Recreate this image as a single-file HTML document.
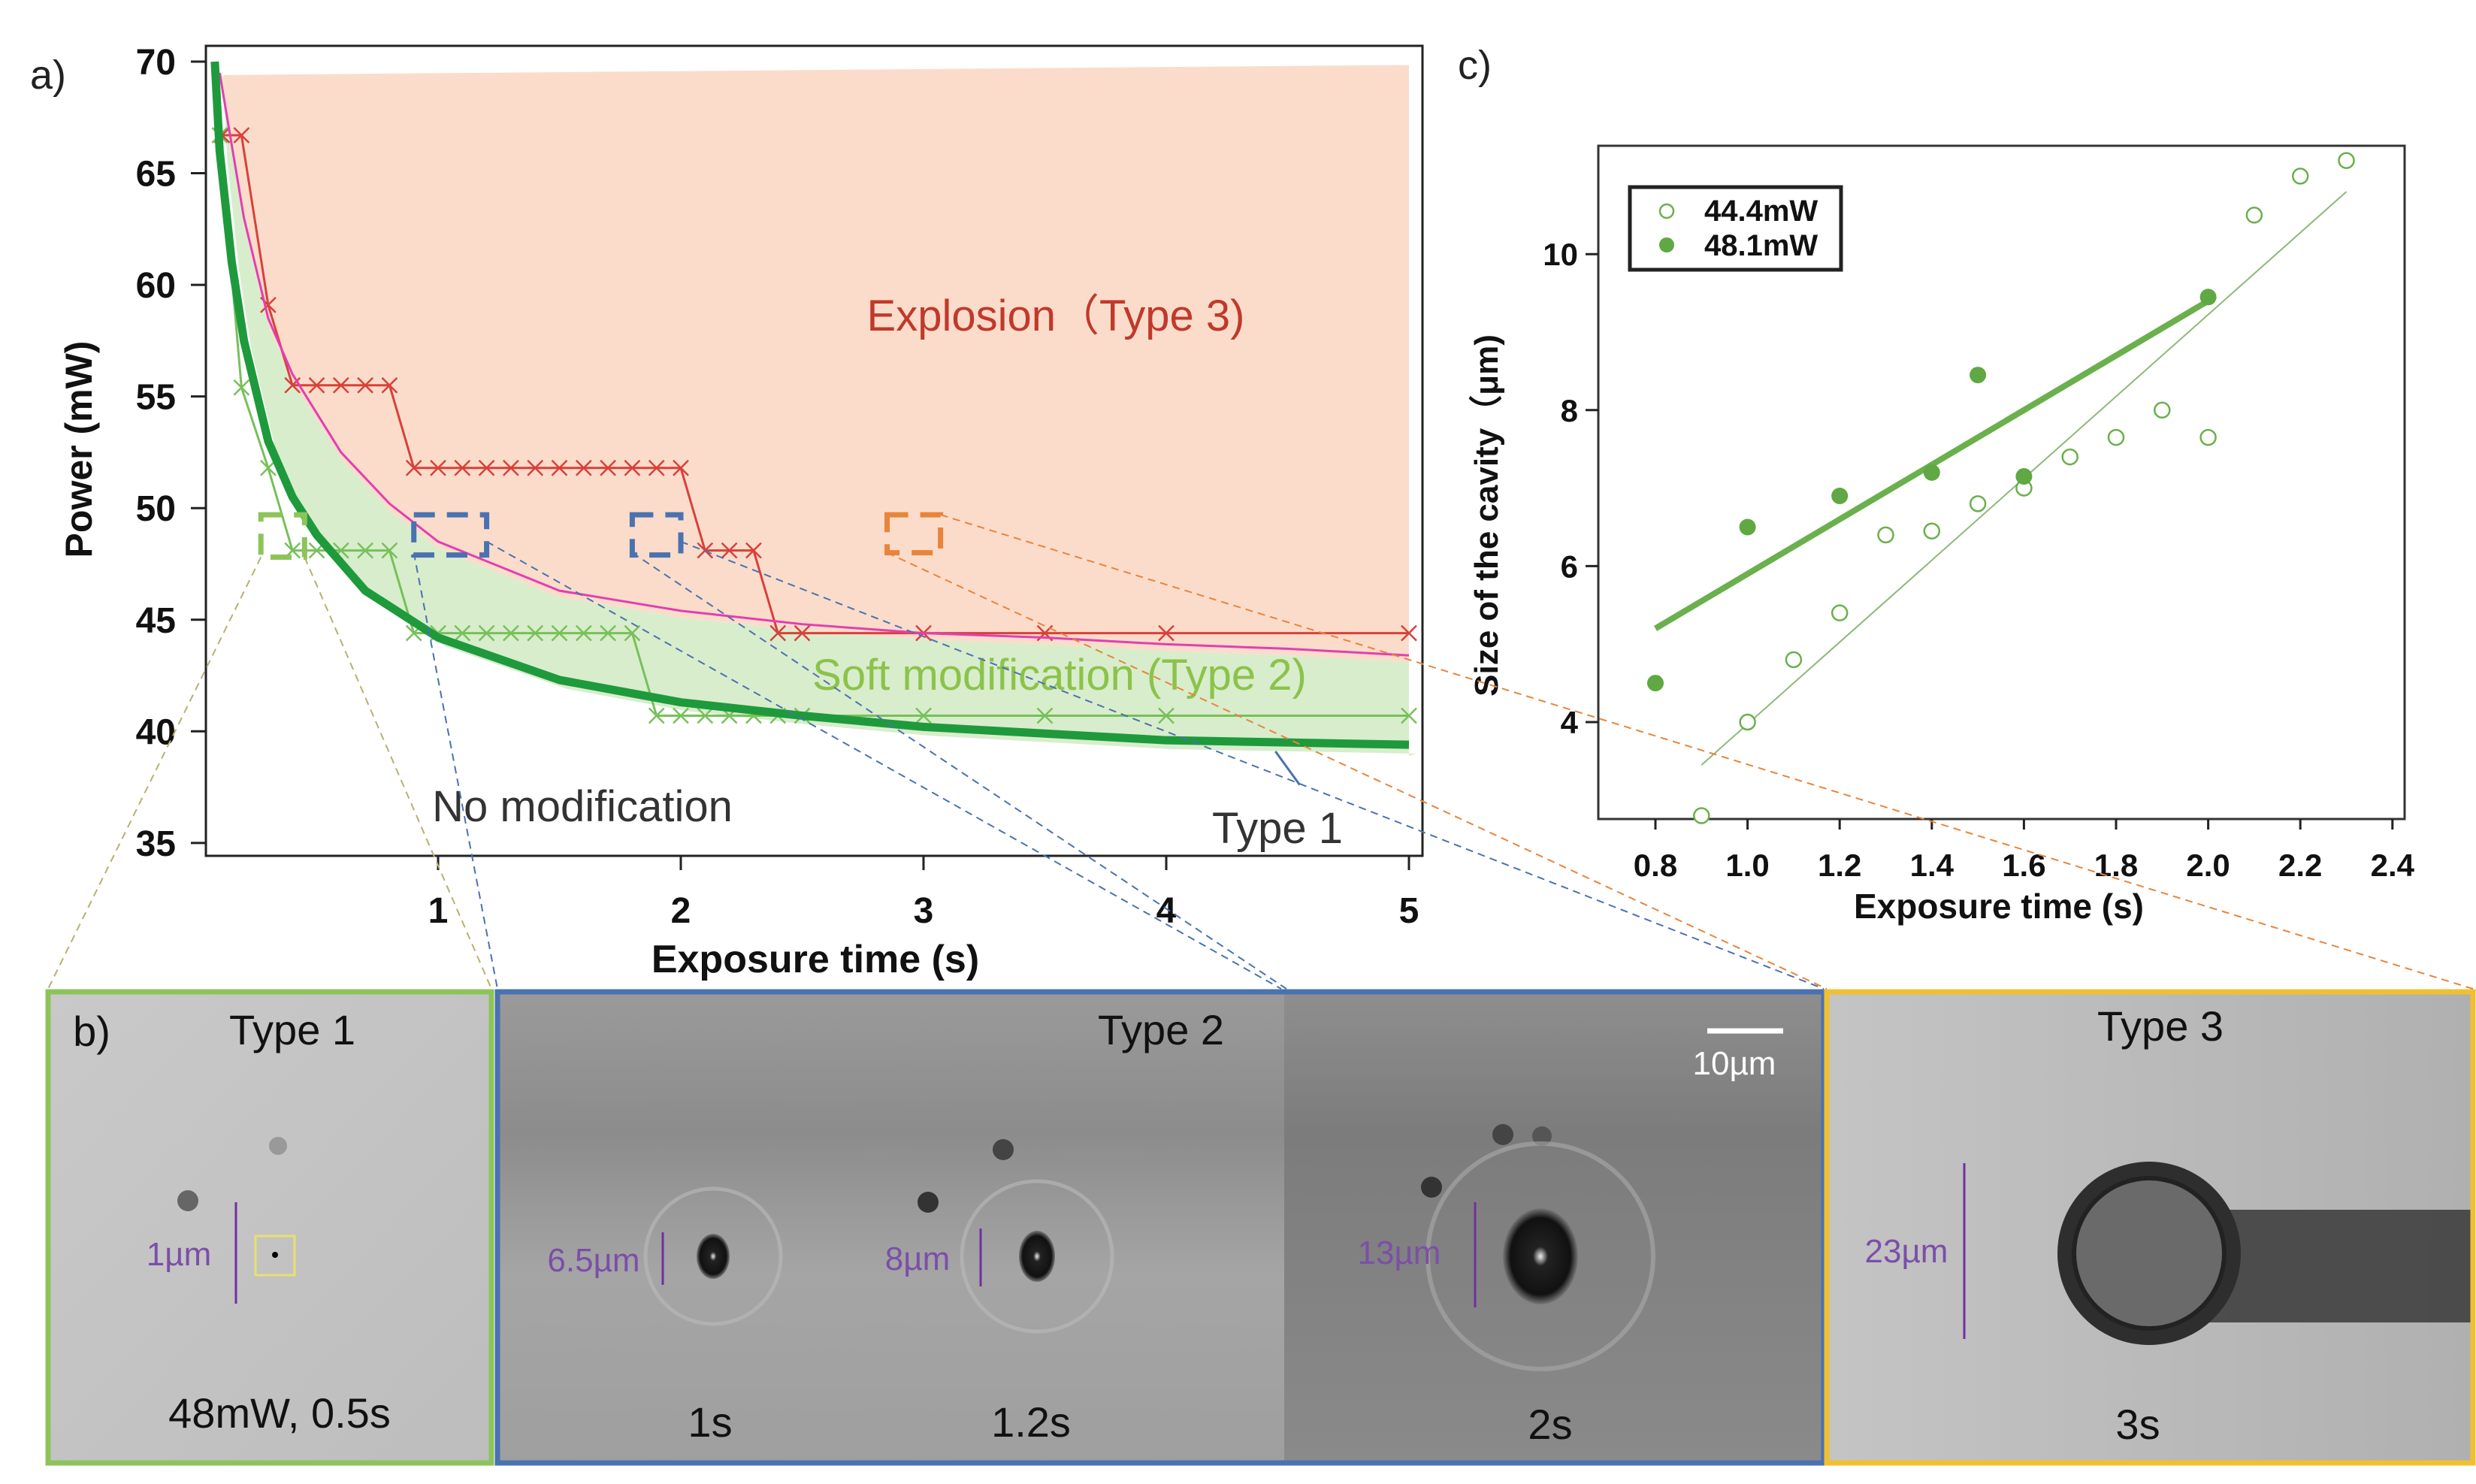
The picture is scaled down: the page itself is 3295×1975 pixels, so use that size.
<!DOCTYPE html>
<html><head><meta charset="utf-8"><style>
html,body{margin:0;padding:0;background:#fff;}
svg{display:block;}
text{font-family:"Liberation Sans",sans-serif;}
.tk{font-family:"Liberation Sans Narrow","Liberation Sans",sans-serif;font-weight:bold;}
</style></head><body>
<svg id="fig" width="3295" height="1975" viewBox="0 0 3295 1975" xmlns="http://www.w3.org/2000/svg">
<defs>
<linearGradient id="g1" x1="0" y1="0" x2="1" y2="1"><stop offset="0" stop-color="#c9c9c9"/><stop offset="1" stop-color="#bdbdbd"/></linearGradient>
<linearGradient id="g2" x1="0" y1="0" x2="0" y2="1"><stop offset="0" stop-color="#9a9a9a"/><stop offset="0.3" stop-color="#8c8c8c"/><stop offset="0.6" stop-color="#a5a5a5"/><stop offset="1" stop-color="#9f9f9f"/></linearGradient>
<linearGradient id="g3" x1="0" y1="0" x2="0" y2="1"><stop offset="0" stop-color="#8e8e8e"/><stop offset="0.3" stop-color="#7c7c7c"/><stop offset="1" stop-color="#8a8a8a"/></linearGradient>
<linearGradient id="g4" x1="0" y1="0" x2="1" y2="0"><stop offset="0" stop-color="#c4c4c4"/><stop offset="1" stop-color="#b0b0b0"/></linearGradient>
<radialGradient id="cav" cx="0.5" cy="0.5" r="0.5"><stop offset="0" stop-color="#eee"/><stop offset="0.2" stop-color="#222"/><stop offset="0.8" stop-color="#111"/><stop offset="1" stop-color="#777"/></radialGradient>
</defs>

<!-- panel b photos -->
<g>
<rect x="64" y="1320" width="590" height="627" fill="url(#g1)"/>
<rect x="662" y="1320" width="1047" height="627" fill="url(#g2)"/>
<rect x="1709" y="1320" width="718" height="627" fill="url(#g3)"/>
<rect x="2431" y="1320" width="860" height="627" fill="url(#g4)"/>
<rect x="2900" y="1610" width="391" height="150" fill="#3a3a3a" opacity="0.85"/>
<circle cx="2860" cy="1668" r="122" fill="#2e2e2e"/>
<circle cx="2860" cy="1668" r="100" fill="#6a6a6a" stroke="#222" stroke-width="6"/>
<circle cx="250" cy="1598" r="14" fill="#666"/>
<circle cx="370" cy="1525" r="12" fill="#999"/>
<circle cx="1235" cy="1600" r="14" fill="#333"/>
<circle cx="1335" cy="1530" r="14" fill="#444"/>
<circle cx="1905" cy="1580" r="14" fill="#333"/>
<circle cx="2000" cy="1510" r="14" fill="#444"/>
<circle cx="2052" cy="1512" r="13" fill="#555"/>
<circle cx="949" cy="1672" r="90" fill="none" stroke="#bbb" stroke-width="5" opacity="0.6"/>
<circle cx="1380" cy="1672" r="100" fill="none" stroke="#bbb" stroke-width="5" opacity="0.6"/>
<circle cx="2050" cy="1672" r="150" fill="none" stroke="#aaa" stroke-width="6" opacity="0.6"/>
<ellipse cx="949" cy="1672" rx="22" ry="30" fill="url(#cav)"/>
<ellipse cx="1380" cy="1672" rx="24" ry="34" fill="url(#cav)"/>
<ellipse cx="2050" cy="1672" rx="50" ry="64" fill="url(#cav)"/>
<circle cx="366" cy="1670" r="4" fill="#000"/>
<rect x="340" y="1645" width="52" height="52" fill="none" stroke="#e8e070" stroke-width="3"/>
<rect x="64" y="1320" width="590" height="627" fill="none" stroke="#8dc45a" stroke-width="7"/>
<rect x="662" y="1320" width="1765" height="627" fill="none" stroke="#4a72b0" stroke-width="7"/>
<rect x="2431" y="1320" width="860" height="627" fill="none" stroke="#f0c030" stroke-width="7"/>
<g stroke="#7030a0" stroke-width="3" fill="#7030a0">
<line x1="314" y1="1600" x2="314" y2="1735"/>
<line x1="882" y1="1640" x2="882" y2="1710"/>
<line x1="1305" y1="1635" x2="1305" y2="1712"/>
<line x1="1963" y1="1600" x2="1963" y2="1740"/>
<line x1="2614" y1="1548" x2="2614" y2="1782"/>
</g>
<g font-size="44" fill="#7b4fa8" text-anchor="middle">
<text x="238" y="1684">1µm</text>
<text x="790" y="1692">6.5µm</text>
<text x="1221" y="1690">8µm</text>
<text x="1862" y="1682">13µm</text>
<text x="2537" y="1680">23µm</text>
</g>
<line x1="2272" y1="1372" x2="2373" y2="1372" stroke="#fff" stroke-width="7"/>
<text x="2308" y="1430" font-size="44" fill="#fff" text-anchor="middle">10µm</text>
<g font-size="56" fill="#111" text-anchor="middle">
<text x="122" y="1392">b)</text>
<text x="389" y="1390">Type 1</text>
<text x="1545" y="1390">Type 2</text>
<text x="2875" y="1385">Type 3</text>
<text x="372" y="1900">48mW, 0.5s</text>
<text x="945" y="1912">1s</text>
<text x="1372" y="1912">1.2s</text>
<text x="2063" y="1915">2s</text>
<text x="2845" y="1915">3s</text>
</g>
</g>

<g id="pa"></g>
<g id="pc"></g>
<g id="links"></g>
</svg>
<script>
// ---- Panel a data ----
const thickT = [0.08,0.1,0.15,0.2,0.3,0.4,0.5,0.7,1,1.5,2,2.5,3,3.5,4,4.5,5];
const thickP = [70,66,61,57.5,53,50.5,48.8,46.3,44.2,42.3,41.3,40.7,40.2,39.9,39.6,39.5,39.4];
const pinkT = [0.1,0.2,0.3,0.4,0.6,0.8,1,1.5,2,2.5,3,3.5,4,4.5,5];
const pinkP = [69.5,63,58.5,56,52.5,50.2,48.5,46.3,45.4,44.8,44.4,44.2,43.9,43.7,43.4];
const redT = [0.11,0.19,0.3,0.4,0.5,0.6,0.7,0.8,0.9,1.0,1.1,1.2,1.3,1.4,1.5,1.6,1.7,1.8,1.9,2.0,2.1,2.2,2.3,2.4,2.5,3,3.5,4,5];
const redP = [66.7,66.7,59.1,55.5,55.5,55.5,55.5,55.5,51.8,51.8,51.8,51.8,51.8,51.8,51.8,51.8,51.8,51.8,51.8,51.8,48.1,48.1,48.1,44.4,44.4,44.4,44.4,44.4,44.4];
const greenT = [0.1,0.19,0.3,0.4,0.5,0.6,0.7,0.8,0.9,1.0,1.1,1.2,1.3,1.4,1.5,1.6,1.7,1.8,1.9,2.0,2.1,2.2,2.3,2.4,2.5,3,3.5,4,5];
const greenP = [66.7,55.4,51.8,48.1,48.1,48.1,48.1,48.1,44.4,44.4,44.4,44.4,44.4,44.4,44.4,44.4,44.4,44.4,40.7,40.7,40.7,40.7,40.7,40.7,40.7,40.7,40.7,40.7,40.7];
const aYTicks = [35,40,45,50,55,60,65,70];
const aXTicks = [1,2,3,4,5];
// ---- Panel c data ----
const openT = [0.9,1.0,1.1,1.2,1.3,1.4,1.5,1.6,1.7,1.8,1.9,2.0,2.1,2.2,2.3];
const openS = [2.8,4.0,4.8,5.4,6.4,6.45,6.8,7.0,7.4,7.65,8.0,7.65,10.5,11.0,11.2];
const fillT = [0.8,1.0,1.2,1.4,1.5,1.6,2.0];
const fillS = [4.5,6.5,6.9,7.2,8.45,7.15,9.45];
const openFitT = [0.9,2.3];
const openFitS = [3.45,10.8];
const fillFitT = [0.8,2.0];
const fillFitS = [5.2,9.4];
const cYTicks = [4,6,8,10];
const cXTicks = [0.8,1.0,1.2,1.4,1.6,1.8,2.0,2.2,2.4];

const NS = "http://www.w3.org/2000/svg";
function mk(parent, tag, attrs, txt){const e=document.createElementNS(NS,tag);for(const k in attrs)e.setAttribute(k,attrs[k]);if(txt!==undefined)e.textContent=txt;parent.appendChild(e);return e;}
const xA = t => 260 + 323*t;
const yA = p => 82 + (70-p)*29.71;
const xC = t => 2203 + (t-0.8)*613;
const yC = v => 961 - (v-4)*103.8;

const pa = document.getElementById('pa');
let pts = [[xA(0.12),yA(69.4)],[xA(5),yA(69.85)],[xA(5),yA(43.0)]];
for(let i=pinkT.length-1;i>=0;i--) pts.push([xA(pinkT[i]),yA(pinkP[i]-0.3)]);
let e = mk(pa,'polygon',{points:pts.map(p=>p.join(',')).join(' '),fill:'#fbdccb'});


pts = [];
for(let i=0;i<pinkT.length;i++) pts.push([xA(pinkT[i]),yA(pinkP[i]-0.3)]);
pts.push([xA(5),yA(38.9)]);
for(let i=thickT.length-1;i>=0;i--) pts.push([xA(thickT[i])+10,yA(thickP[i]-0.4)]);
e = mk(pa,'polygon',{points:pts.map(p=>p.join(',')).join(' '),fill:'#d8edcc'});



e = mk(pa,'rect',{x:274,y:61,width:1619,height:1078,fill:'none',stroke:'#222','stroke-width':3});


aYTicks.forEach(v=>{
  const l=mk(pa,'line',{x1:254,y1:yA(v),x2:274,y2:yA(v),stroke:'#222','stroke-width':3});
  
  
  const t=mk(pa,'text',{x:234,y:yA(v)+17,'font-size':48,'text-anchor':'end',class:'tk',fill:'#111'},String(v));
  
  
});
aXTicks.forEach(v=>{
  const l=mk(pa,'line',{x1:xA(v),y1:1139,x2:xA(v),y2:1158,stroke:'#222','stroke-width':3});
  
  
  const t=mk(pa,'text',{x:xA(v),y:1228,'font-size':48,'text-anchor':'middle',class:'tk',fill:'#111'},String(v));
  
  
});
e = mk(pa,'text',{x:1085,y:1294,'font-size':52,'text-anchor':'middle',class:'tk',fill:'#111'},'Exposure time (s)');


e = mk(pa,'text',{x:0,y:0,'font-size':50,'text-anchor':'middle',class:'tk',fill:'#111',transform:'translate(122,598) rotate(-90)'},'Power (mW)');


e = mk(pa,'text',{x:40,y:118,'font-size':54,fill:'#222'},'a)');



function line(parent, T, V, fx, fy, attrs){return mk(parent,'polyline',Object.assign({points:T.map((t,i)=>fx(t)+','+fy(V[i])).join(' '),fill:'none'},attrs));}
function crosses(parent, T, V, color, name){
  T.forEach((t,i)=>{const x=xA(t),y=yA(V[i]),s=10;
    const p=mk(parent,'path',{d:`M${x-s},${y-s}L${x+s},${y+s}M${x-s},${y+s}L${x+s},${y-s}`,stroke:color,'stroke-width':2.5});
    
    
  });
}
e = line(pa, greenT, greenP, xA, yA, {stroke:'#77c05a','stroke-width':3});


crosses(pa, greenT, greenP, '#77c05a','type2-marker');
e = line(pa, redT, redP, xA, yA, {stroke:'#d9403a','stroke-width':3});


crosses(pa, redT, redP, '#d9403a','type3-marker');
e = line(pa, pinkT, pinkP, xA, yA, {stroke:'#e040b0','stroke-width':3});


e = line(pa, thickT, thickP, xA, yA, {stroke:'#1e9a3c','stroke-width':11,'stroke-linejoin':'round'});



function box(t0,t1,p0,p1,color,name){const r=mk(pa,'rect',{x:xA(t0),y:yA(p1),width:xA(t1)-xA(t0),height:yA(p0)-yA(p1),fill:'none',stroke:color,'stroke-width':7,'stroke-dasharray':'28,16'});
  
  }
box(0.27,0.45,47.8,49.7,'#8dc45a','type1-sample-box');
box(0.9,1.2,47.9,49.7,'#4a72b0','type2-sample-box-1');
box(1.8,2.0,47.9,49.7,'#4a72b0','type2-sample-box-2');
box(2.85,3.07,48,49.7,'#e8853a','type3-sample-box');

const tx = [
 ['Explosion（Type 3)',1405,440,'#c0392b','explosion-label'],
 ['Soft modification (Type 2)',1410,918,'#8bc34a','soft-modification-label'],
 ['No modification',775,1093,'#333','no-modification-label'],
 ['Type 1',1700,1122,'#333','type1-label']];
tx.forEach(a=>{const t=mk(pa,'text',{x:a[1],y:a[2],'font-size':58,'text-anchor':'middle',fill:a[3]},a[0]);
  
  });
e = mk(pa,'path',{d:`M${xA(4.55)},${yA(37.6)} L${xA(4.45)},${yA(39.1)}`,stroke:'#4a72b0','stroke-width':3});



// ---- panel c ----
const pc = document.getElementById('pc');
e = mk(pc,'rect',{x:2127,y:194,width:1073,height:896,fill:'none',stroke:'#333','stroke-width':3});


cYTicks.forEach(v=>{
  const l=mk(pc,'line',{x1:2110,y1:yC(v),x2:2127,y2:yC(v),stroke:'#222','stroke-width':3});
  
  
  const t=mk(pc,'text',{x:2100,y:yC(v)+15,'font-size':42,'text-anchor':'end',class:'tk',fill:'#111'},String(v));
  
  
});
cXTicks.forEach(v=>{
  const l=mk(pc,'line',{x1:xC(v),y1:1090,x2:xC(v),y2:1104,stroke:'#222','stroke-width':3});
  
  
  const t=mk(pc,'text',{x:xC(v),y:1166,'font-size':42,'text-anchor':'middle',class:'tk',fill:'#111'},v.toFixed(1));
  
  
});
e = mk(pc,'text',{x:2660,y:1222,'font-size':46,'text-anchor':'middle',class:'tk',fill:'#111'},'Exposure time (s)');


e = mk(pc,'text',{x:0,y:0,'font-size':44,'text-anchor':'middle',class:'tk',fill:'#111',transform:'translate(1993,686) rotate(-90)'},'Size of the cavity（μm)');


e = mk(pc,'text',{x:1940,y:105,'font-size':54,fill:'#222'},'c)');


e = line(pc, openFitT, openFitS, xC, yC, {stroke:'#8db87a','stroke-width':2});


e = line(pc, fillFitT, fillFitS, xC, yC, {stroke:'#6ab04c','stroke-width':8});


openT.forEach((t,i)=>{const c=mk(pc,'circle',{cx:xC(t),cy:yC(openS[i]),r:10,fill:'#fff',stroke:'#6ab04c','stroke-width':2.5});
  
  });
fillT.forEach((t,i)=>{const c=mk(pc,'circle',{cx:xC(t),cy:yC(fillS[i]),r:11,fill:'#5fa843'});
  
  });
e = mk(pc,'rect',{x:2169,y:249,width:281,height:110,fill:'#fff',stroke:'#222','stroke-width':5});


e = mk(pc,'circle',{cx:2218,cy:281,r:9,fill:'#fff',stroke:'#6ab04c','stroke-width':2.5});


e = mk(pc,'circle',{cx:2218,cy:326,r:10,fill:'#5fa843'});


e = mk(pc,'text',{x:2268,y:294,'font-size':40,class:'tk',fill:'#111'},'44.4mW');


e = mk(pc,'text',{x:2268,y:340,'font-size':40,class:'tk',fill:'#111'},'48.1mW');



// connectors
const links = document.getElementById('links');
const L = [
 [xA(0.27),yA(47.8),64,1316,'#b8b070'],[xA(0.45),yA(47.8),654,1316,'#b8b070'],
 [xA(0.9),yA(48),662,1316,'#4a72b0'],[xA(1.2),yA(48.5),1705,1316,'#4a72b0'],
 [xA(1.8),yA(48),1712,1316,'#4a72b0'],[xA(2.0),yA(48.5),2427,1316,'#4a72b0'],
 [xA(2.85),yA(48),2431,1316,'#e8853a'],[xA(3.07),yA(49.7),3291,1316,'#e8853a']];
L.forEach(a=>{const l=mk(links,'line',{x1:a[0],y1:a[1],x2:a[2],y2:a[3],stroke:a[4],'stroke-width':2,'stroke-dasharray':'10,7'});
  
  });
</script>
</body></html>
